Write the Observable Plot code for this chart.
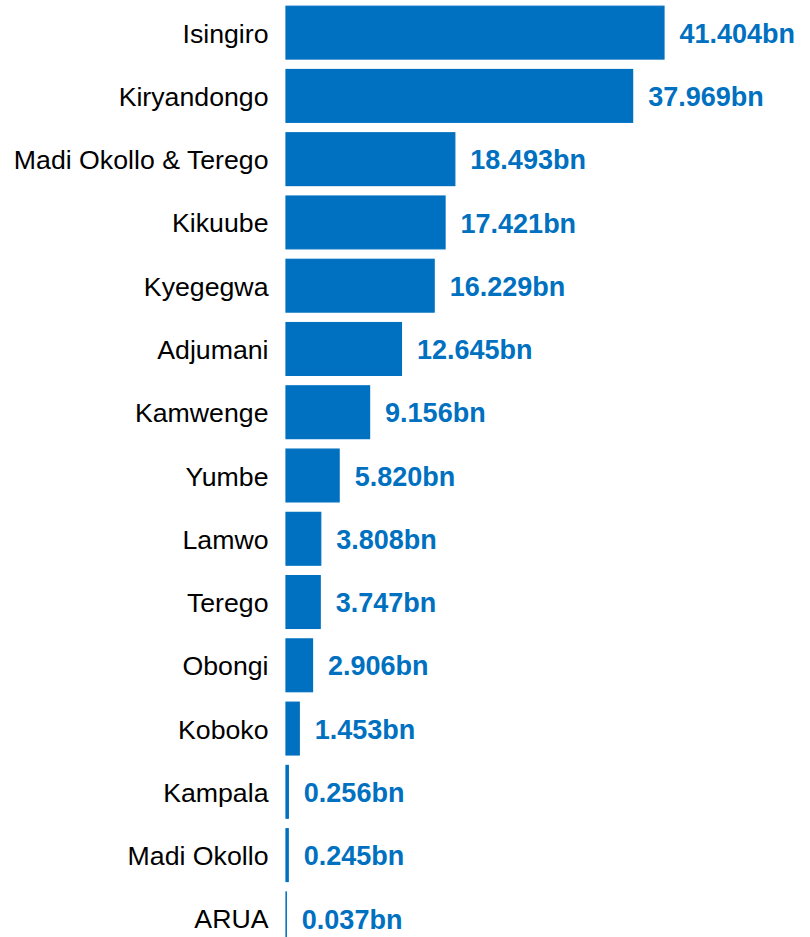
<!DOCTYPE html>
<html>
<head>
<meta charset="utf-8">
<script src="https://cdn.jsdelivr.net/npm/d3@7"></script>
<script src="https://cdn.jsdelivr.net/npm/@observablehq/plot@0.6"></script>
<style>
  html, body { margin: 0; padding: 0; background: #fff; overflow: hidden; }
  #chart svg { display: block; overflow: hidden; }
</style>
</head>
<body>
<div id="chart"></div>
<script>
const districts = ["Isingiro", "Kiryandongo", "Madi Okollo & Terego", "Kikuube", "Kyegegwa", "Adjumani", "Kamwenge", "Yumbe", "Lamwo", "Terego", "Obongi", "Koboko", "Kampala", "Madi Okollo", "ARUA"];
const amounts = [41.404, 37.969, 18.493, 17.421, 16.229, 12.645, 9.156, 5.820, 3.808, 3.747, 2.906, 1.453, 0.256, 0.245, 0.037];

const data = districts.map((d, i) => ({district: d, value: amounts[i]}));
const blue = "#0070C0";

const chart = Plot.plot({
  width: 810,
  height: 937,
  marginLeft: 0,
  marginRight: 0,
  marginTop: 0,
  marginBottom: 0,
  style: {fontFamily: "Arial, 'Liberation Sans', sans-serif", background: "#fff"},
  x: {domain: [0, 41.404], range: [286, 664], axis: null},
  y: {domain: districts, range: [1, 950], round: false, paddingInner: 0.165, paddingOuter: 0.0825, label: null},
  marks: [
    Plot.barX(data, {y: "district", x: "value", fill: blue, stroke: blue, strokeWidth: 1.2}),
    Plot.text(data, {y: "district", x: "value", text: d => d.value.toFixed(3) + "bn", textAnchor: "start", dx: 15, dy: 1, fill: blue, fontSize: 27, fontWeight: "bold"}),
    Plot.axisY({anchor: "left", tickSize: 0, tickPadding: 0, fontSize: 26.7, label: null, x: 0, dx: -18, dy: 1, textAnchor: "end", color: "#000"})
  ]
});
document.getElementById("chart").append(chart);
</script>
</body>
</html>
